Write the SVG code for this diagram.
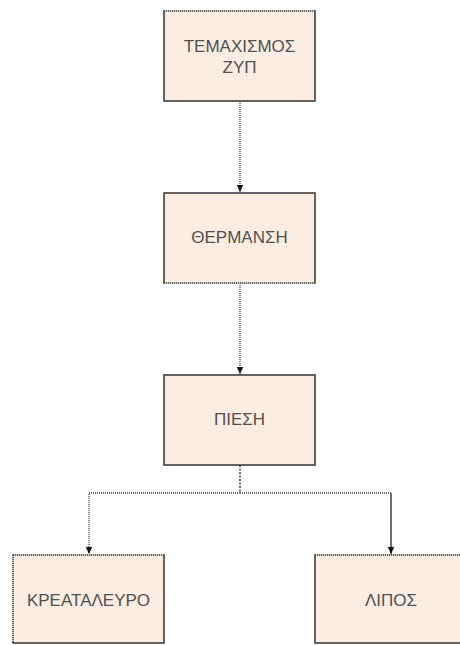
<svg xmlns="http://www.w3.org/2000/svg" width="460" height="645" viewBox="0 0 460 645">
  <defs>
    <marker id="arr" markerWidth="8" markerHeight="8" refX="7.5" refY="4" orient="auto" markerUnits="userSpaceOnUse" viewBox="0 0 8 8">
      <path d="M0.5,0.8 L7.5,4 L0.5,7.2 Z" fill="#111"/>
    </marker>
    <style>
      .box { fill: #fcede2; stroke: #333; stroke-width: 1.5; }
      .dot { stroke: #fcede2; stroke-width: 1.6; stroke-dasharray: 1 1; fill: none; }
      .lbl { font-family: "Liberation Sans", Arial, sans-serif; font-size: 17px; fill: #505050; text-anchor: middle; }
      .conn { fill: none; stroke: #444; stroke-width: 1.3; stroke-dasharray: 1 1; }
      .solid { fill: none; stroke: #222; stroke-width: 1.3; }
    </style>
  </defs>
  <rect width="460" height="645" fill="#ffffff"/>

  <g id="connectors">
    <path class="conn" d="M240,101 V192" marker-end="url(#arr)"/>
    <path class="conn" d="M240,283 V374" marker-end="url(#arr)"/>
    <path class="conn" d="M240,465 V493" style="stroke:#222;stroke-dasharray:2 1.5"/>
    <path class="conn" d="M240,493 H89 V554" marker-end="url(#arr)"/>
    <path class="conn" d="M240,493 H391"/>
    <path class="solid" d="M391,493 V554" marker-end="url(#arr)"/>
  </g>

  <g id="n1">
    <rect class="box" x="164" y="11" width="151" height="90"/>
    <line class="dot" x1="165" y1="11" x2="314" y2="11"/>
    <text class="lbl" x="239.5" y="52">ΤΕΜΑΧΙΣΜΟΣ</text>
    <text class="lbl" x="239.5" y="73">ΖΥΠ</text>
  </g>

  <g id="n2">
    <rect class="box" x="164" y="193" width="151" height="90"/>
    <line class="dot" x1="165" y1="283" x2="314" y2="283"/>
    <text class="lbl" x="239.5" y="243">ΘΕΡΜΑΝΣΗ</text>
  </g>

  <g id="n3">
    <rect class="box" x="164" y="375" width="151" height="90"/>
    <text class="lbl" x="239.5" y="425">ΠΙΕΣΗ</text>
  </g>

  <g id="n4">
    <rect class="box" x="13" y="555" width="151" height="88"/>
    <line class="dot" x1="14" y1="555" x2="163" y2="555"/>
    <line class="dot" x1="13" y1="556" x2="13" y2="642"/>
    <text class="lbl" x="88.5" y="606">ΚΡΕΑΤΑΛΕΥΡΟ</text>
  </g>

  <g id="n5">
    <rect class="box" x="315" y="555" width="152" height="88"/>
    <line class="dot" x1="316" y1="555" x2="460" y2="555"/>
    <text class="lbl" x="391" y="606">ΛΙΠΟΣ</text>
  </g>
</svg>
